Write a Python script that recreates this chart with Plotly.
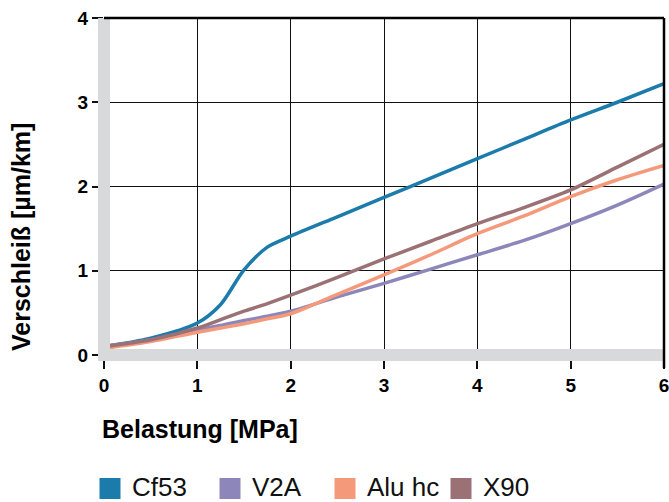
import plotly.graph_objects as go

# Belastung [MPa]
load = [0, 0.5, 1, 1.25, 1.5, 1.75, 2, 2.5, 3, 3.5, 4, 4.5, 5, 5.5, 6]

# Verschleiß [µm/km] per material
cf53 = [0.10, 0.20, 0.38, 0.60, 1.01, 1.28, 1.41, 1.64, 1.87, 2.10, 2.33, 2.56, 2.79, 3.00, 3.22]
v2a = [0.10, 0.18, 0.30, 0.35, 0.41, 0.46, 0.52, 0.69, 0.85, 1.02, 1.19, 1.36, 1.56, 1.78, 2.03]
alu_hc = [0.08, 0.16, 0.27, 0.32, 0.37, 0.43, 0.49, 0.72, 0.95, 1.19, 1.44, 1.65, 1.88, 2.08, 2.25]
x90 = [0.10, 0.18, 0.32, 0.42, 0.52, 0.61, 0.71, 0.92, 1.14, 1.35, 1.56, 1.75, 1.96, 2.23, 2.50]

names = ["Cf53", "V2A", "Alu hc", "X90"]
colors = ["#1b7bab", "#8d86bb", "#f4997a", "#9b7176"]
series = [cf53, v2a, alu_hc, x90]

x_ticks = [0, 1, 2, 3, 4, 5, 6]
y_ticks = [0, 1, 2, 3, 4]

W, H = 669, 502
ML, MR, MT, MB = 104, 5, 18, 147
PW, PH = W - ML - MR, H - MT - MB


def px_x(px):
    """Horizontal page pixel -> paper coordinate."""
    return (px - ML) / PW


def px_y(py):
    """Vertical page pixel (from top) -> paper coordinate."""
    return (PH + MT - py) / PH


fig = go.Figure()

for name, color, vals in zip(names, colors, series):
    fig.add_trace(go.Scatter(
        x=load, y=vals, mode="lines", name=name,
        line=dict(color=color, width=3.5, shape="spline", smoothing=0.8),
        showlegend=False, hoverinfo="x+y+name",
    ))

gray = "#d8d9db"
shapes = [
    # thick grey axis bars
    dict(type="rect", xref="x domain", yref="y domain",
         x0=-6 / PW, x1=6 / PW, y0=-6 / PH, y1=1,
         fillcolor=gray, line=dict(width=0), layer="above"),
    dict(type="rect", xref="x domain", yref="y domain",
         x0=-6 / PW, x1=1, y0=-6 / PH, y1=6 / PH,
         fillcolor=gray, line=dict(width=0), layer="above"),
    # black frame at top and right
    dict(type="line", xref="x domain", yref="y domain",
         x0=0, x1=1, y0=1, y1=1,
         line=dict(color="black", width=2.5), layer="above"),
    dict(type="line", xref="x domain", yref="y domain",
         x0=1, x1=1, y0=-13 / PH, y1=1,
         line=dict(color="black", width=2.5), layer="above"),
]

font_family = "Liberation Sans, Arial, sans-serif"

annotations = [
    dict(text="<b>Verschleiß [µm/km]</b>", xref="paper", yref="paper",
         x=px_x(20.5), y=px_y(237.5),
         xanchor="center", yanchor="middle", textangle=-90, showarrow=False,
         font=dict(family=font_family, size=25, color="black")),
    dict(text="<b>Belastung [MPa]</b>", xref="paper", yref="paper",
         x=px_x(100), y=px_y(429),
         xanchor="left", yanchor="middle", showarrow=False,
         font=dict(family=font_family, size=25, color="black")),
]

# legend row: colour square followed by the material name
legend_left = [99.5, 219.5, 334.5, 450.5]
for name, color, left in zip(names, colors, legend_left):
    shapes.append(dict(
        type="rect", xref="paper", yref="paper",
        x0=px_x(left), x1=px_x(left + 21), y0=px_y(499), y1=px_y(478),
        fillcolor=color, line=dict(width=0),
    ))
    annotations.append(dict(
        text=name, xref="paper", yref="paper",
        x=px_x(left + 30), y=px_y(487.5),
        xanchor="left", yanchor="middle", showarrow=False,
        font=dict(family=font_family, size=26, color="#111"),
    ))

fig.update_layout(
    width=W, height=H,
    margin=dict(l=ML, r=MR, t=MT, b=MB, autoexpand=False),
    paper_bgcolor="white", plot_bgcolor="white",
    font=dict(family=font_family, color="black"),
    shapes=shapes, annotations=annotations,
    showlegend=False,
    xaxis=dict(
        range=[0, 6], tickvals=x_ticks, ticktext=[str(v) for v in x_ticks],
        showgrid=True, gridcolor="#111", gridwidth=1.3,
        zeroline=False, showline=False,
        ticks="outside", ticklen=13, tickwidth=1.5, tickcolor="#111",
        tickfont=dict(family=font_family, size=19, color="black", weight="bold"),
        ticklabeloverflow="allow",
        fixedrange=True, automargin=False,
    ),
    yaxis=dict(
        range=[0, 4], tickvals=y_ticks, ticktext=[str(v) for v in y_ticks],
        showgrid=True, gridcolor="#111", gridwidth=1.3,
        zeroline=False, showline=False,
        ticks="outside", ticklen=11, tickwidth=1.5, tickcolor="#111",
        tickfont=dict(family=font_family, size=19, color="black", weight="bold"),
        ticklabeloverflow="allow",
        fixedrange=True, automargin=False,
    ),
)

fig.write_html("out.html")
